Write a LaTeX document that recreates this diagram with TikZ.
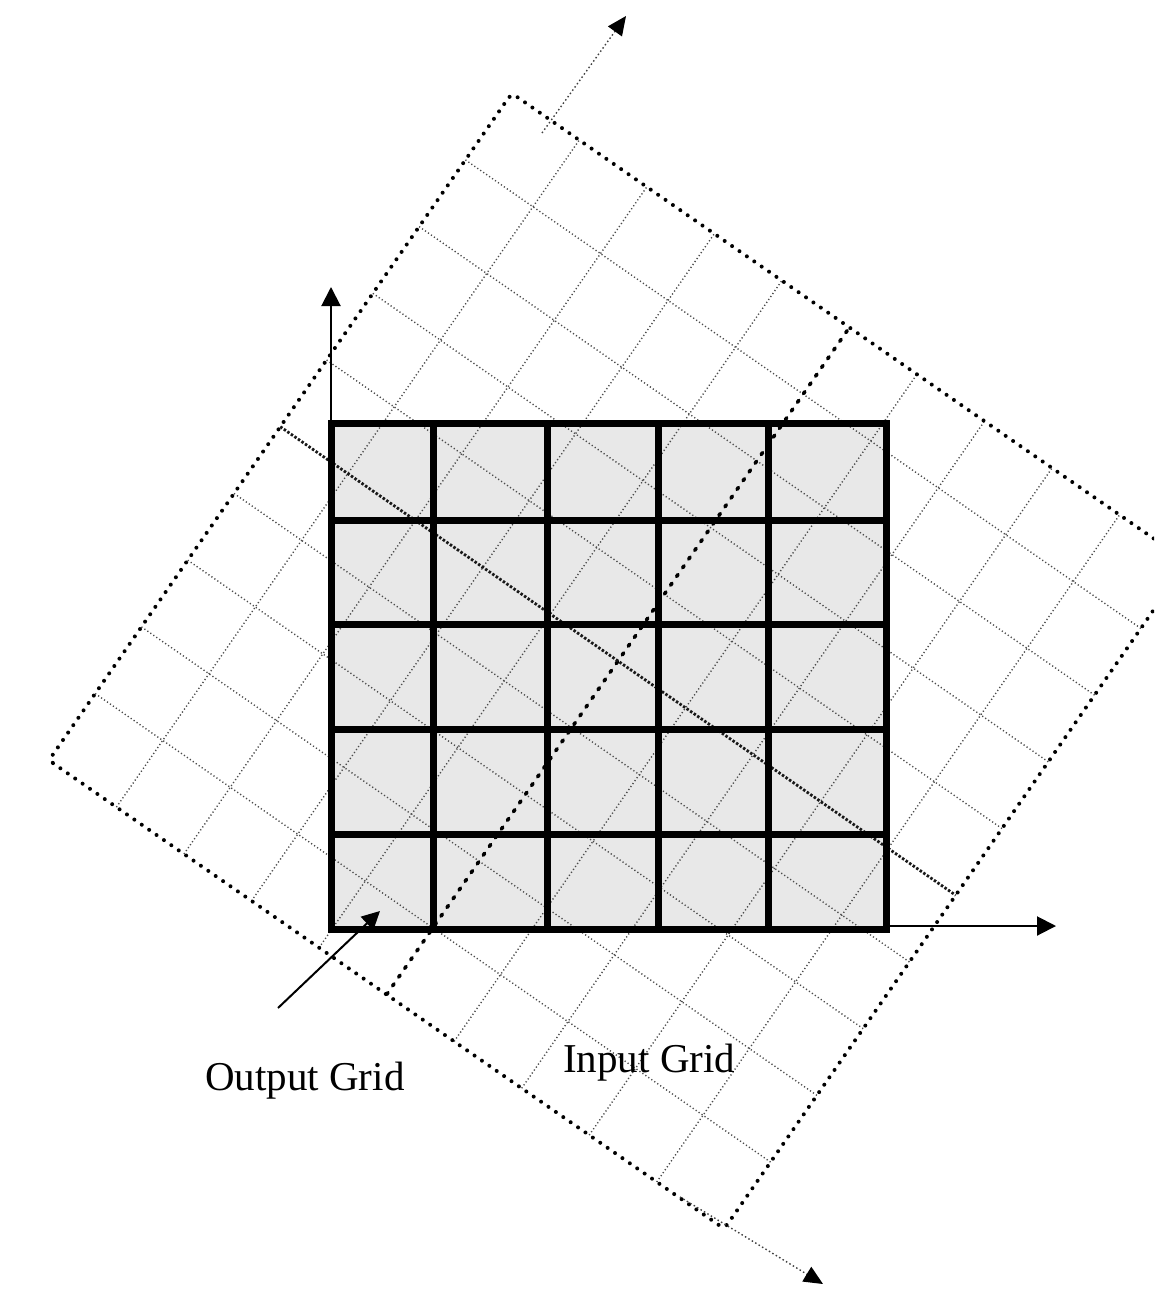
\documentclass[tikz,border=0pt]{standalone}
\usepackage{fontspec}
\setmainfont{Liberation Serif}
\usetikzlibrary{arrows.meta}
\begin{document}
\begin{tikzpicture}[x=1pt,y=-1pt,
  outfill/.style={fill=black!9},
  outline/.style={line width=7pt, line cap=rect},
  axisline/.style={line width=2pt, -{Triangle[length=19pt,width=19pt]}},
  ingrid/.style={line width=1.4pt, black!70, dash pattern=on 1.2pt off 2.4pt},
  inframe/.style={line width=4pt, black, line cap=round, dash pattern=on 0pt off 9pt, rounded corners=5pt},
  incenterA/.style={line width=3.6pt, black, line cap=round, dash pattern=on 2.4pt off 8.2pt},
  incenterB/.style={line width=2.8pt, black!90, dash pattern=on 2.5pt off 1.8pt},
  inaxis/.style={line width=1.4pt, black!75, dash pattern=on 1.5pt off 2.5pt, -{Triangle[length=19pt,width=17pt,color=black]}},
  lbl/.style={font=\fontsize{41}{49}\selectfont, inner sep=0pt, anchor=base west}
]
\useasboundingbox (0,0) rectangle (1154,1289);
\clip (0,0) rectangle (1154,1289);
% output grid fill
\fill[outfill] (331,423) rectangle (886,929);
% input grid (rotated)
\begin{scope}[shift={(618,661)}, x={(67.54pt,-46.85pt)}, y={(46.28pt,66.71pt)}]
  \foreach \i in {-4,-3,-2,-1,1,2,3,4} {
    \draw[ingrid] (\i,-5) -- (\i,5);
    \draw[ingrid] (-5,\i) -- (5,\i);
  }
  \draw[incenterA] (0,-5) -- (0,5);
  \draw[incenterB] (-5,0) -- (5,0);
  \draw[inframe] (-5,-5) -- (5,-5) -- (5,5) -- (-5,5) -- cycle;
\end{scope}
% output grid lines
\foreach \x in {331,433,547,658,768,886} \draw[outline] (\x,423) -- (\x,929);
\foreach \y in {423,520,624,729,834,929} \draw[outline] (331,\y) -- (886,\y);
% coordinates
\coordinate (origin) at (331,929);
\coordinate (yaxisEnd) at (331,287);
\coordinate (xaxisStart) at (886,926);
\coordinate (xaxisEnd) at (1056,926);
\coordinate (rvStart) at (542,133);
\coordinate (rvEnd) at (626,16);
\coordinate (ruStart) at (680,1197);
\coordinate (ruEnd) at (823,1284);
\coordinate (ptrStart) at (278,1008);
\coordinate (ptrEnd) at (380,911);
% axes
\draw[axisline] (origin) -- (yaxisEnd);
\draw[axisline] (xaxisStart) -- (xaxisEnd);
\draw[inaxis] (rvStart) -- (rvEnd);
\draw[inaxis] (ruStart) -- (ruEnd);
\draw[line width=2pt, -{Triangle[length=18pt,width=18pt]}] (ptrStart) -- (ptrEnd);
% labels
\node[lbl] (outlbl) at (205,1090) {Output Grid};
\node[lbl] (inlbl) at (563,1072) {Input Grid};
\end{tikzpicture}
\end{document}
